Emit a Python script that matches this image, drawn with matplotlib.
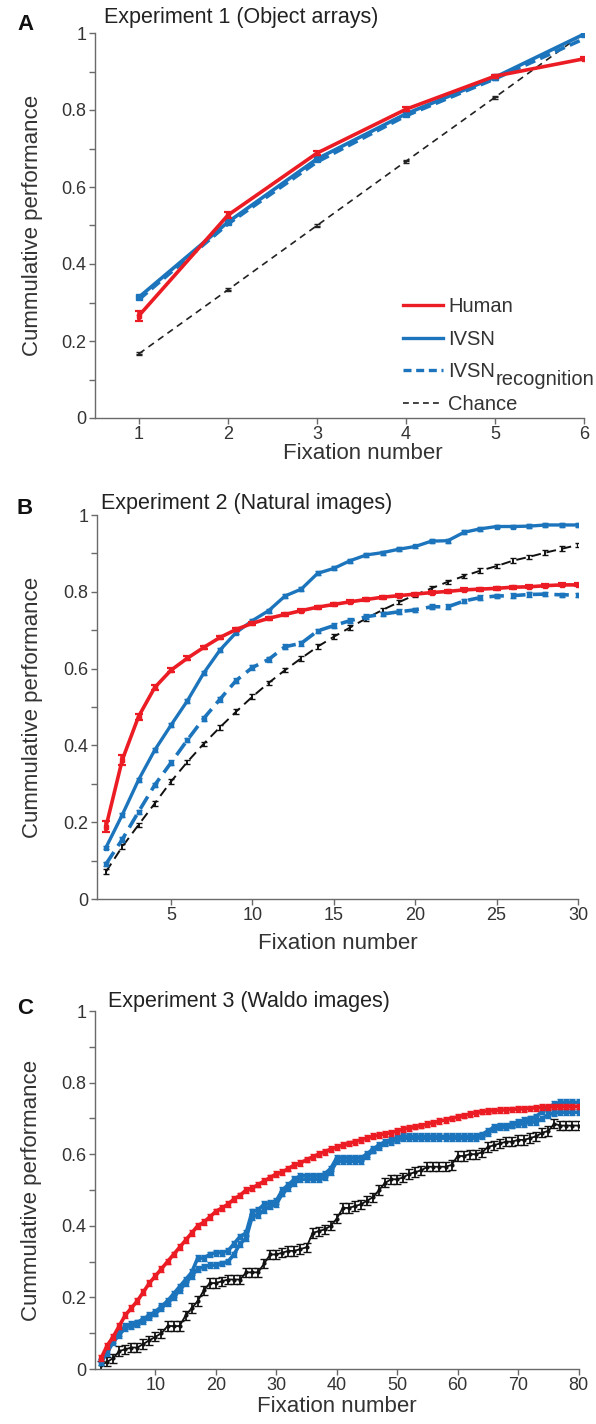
import matplotlib
matplotlib.use("Agg")
import matplotlib.pyplot as plt
from matplotlib.lines import Line2D
from matplotlib.ticker import MultipleLocator
from matplotlib.transforms import IdentityTransform

plt.rcParams["font.family"] = ["Liberation Sans", "DejaVu Sans"]

RED = "#ec1c24"
BLUE = "#1c75bc"
INK = "#333333"
SPINE = "#6a6a6a"

W, H = 596, 1424

# Experiment 1 (object arrays)
fix_a = [1, 2, 3, 4, 5, 6]
human_a = [0.266, 0.527, 0.688, 0.802, 0.888, 0.933]
human_a_err = [0.013, 0.007, 0.006, 0.005, 0.004, 0.004]
ivsn_a = [0.314, 0.509, 0.673, 0.790, 0.885, 0.997]
ivsn_rec_a = [0.308, 0.504, 0.665, 0.785, 0.881, 0.985]
chance_a = [0.167, 0.333, 0.500, 0.667, 0.833, 1.000]

# Experiment 2 (natural images)
fix_b = list(range(1, 31))
human_b = [0.188, 0.362, 0.475, 0.551, 0.596, 0.627, 0.655, 0.681, 0.702, 0.718,
           0.731, 0.741, 0.751, 0.760, 0.767, 0.774, 0.780, 0.786, 0.790, 0.794,
           0.798, 0.801, 0.805, 0.807, 0.809, 0.812, 0.813, 0.816, 0.818, 0.818]
human_b_err = [0.014, 0.014, 0.008, 0.007, 0.006, 0.005, 0.005, 0.005, 0.004, 0.004,
               0.004, 0.004, 0.004, 0.004, 0.004, 0.004, 0.004, 0.004, 0.004, 0.004,
               0.004, 0.004, 0.004, 0.004, 0.004, 0.004, 0.004, 0.004, 0.004, 0.004]
ivsn_b = [0.134, 0.219, 0.310, 0.388, 0.453, 0.516, 0.588, 0.648, 0.694, 0.725,
          0.751, 0.789, 0.807, 0.848, 0.861, 0.881, 0.896, 0.902, 0.911, 0.918,
          0.932, 0.933, 0.955, 0.964, 0.970, 0.970, 0.971, 0.974, 0.974, 0.974]
ivsn_rec_b = [0.091, 0.155, 0.227, 0.297, 0.355, 0.414, 0.470, 0.520, 0.569, 0.603,
              0.624, 0.657, 0.666, 0.698, 0.712, 0.725, 0.735, 0.742, 0.748, 0.753,
              0.761, 0.761, 0.776, 0.785, 0.789, 0.790, 0.793, 0.794, 0.792, 0.792]
chance_b = [0.071, 0.136, 0.193, 0.249, 0.306, 0.357, 0.404, 0.447, 0.488, 0.527,
            0.563, 0.596, 0.627, 0.657, 0.683, 0.707, 0.731, 0.753, 0.773, 0.792,
            0.809, 0.826, 0.841, 0.855, 0.867, 0.881, 0.891, 0.902, 0.912, 0.922]

# Experiment 3 (Waldo images)
fix_c = list(range(1, 81))
human_c = [0.030, 0.065, 0.090, 0.120, 0.150, 0.170, 0.190, 0.215, 0.240, 0.260,
           0.280, 0.300, 0.320, 0.340, 0.360, 0.380, 0.400, 0.410, 0.425, 0.440,
           0.450, 0.460, 0.475, 0.485, 0.500, 0.505, 0.515, 0.525, 0.535, 0.545,
           0.550, 0.560, 0.570, 0.575, 0.585, 0.592, 0.600, 0.607, 0.614, 0.620,
           0.625, 0.630, 0.635, 0.640, 0.645, 0.650, 0.653, 0.657, 0.660, 0.665,
           0.670, 0.673, 0.677, 0.680, 0.684, 0.688, 0.692, 0.696, 0.700, 0.704,
           0.708, 0.712, 0.716, 0.719, 0.720, 0.722, 0.723, 0.724, 0.725, 0.726,
           0.727, 0.728, 0.730, 0.731, 0.732, 0.733, 0.733, 0.733, 0.733, 0.733]
ivsn_c = [0.020, 0.050, 0.080, 0.100, 0.120, 0.125, 0.130, 0.140, 0.150, 0.160,
          0.175, 0.190, 0.210, 0.230, 0.250, 0.270, 0.310, 0.310, 0.320, 0.325,
          0.325, 0.330, 0.350, 0.370, 0.380, 0.440, 0.445, 0.460, 0.465, 0.470,
          0.500, 0.515, 0.530, 0.540, 0.540, 0.540, 0.540, 0.545, 0.560, 0.590,
          0.590, 0.590, 0.590, 0.590, 0.600, 0.615, 0.625, 0.635, 0.640, 0.645,
          0.650, 0.650, 0.650, 0.650, 0.650, 0.650, 0.650, 0.650, 0.650, 0.650,
          0.650, 0.650, 0.650, 0.655, 0.665, 0.675, 0.680, 0.680, 0.685, 0.690,
          0.695, 0.700, 0.705, 0.720, 0.730, 0.740, 0.745, 0.745, 0.745, 0.745]
ivsn_rec_c = [0.020, 0.045, 0.075, 0.095, 0.115, 0.120, 0.125, 0.135, 0.145, 0.155,
              0.170, 0.185, 0.200, 0.220, 0.240, 0.260, 0.280, 0.285, 0.290, 0.290,
              0.295, 0.300, 0.320, 0.350, 0.365, 0.425, 0.430, 0.445, 0.455, 0.460,
              0.490, 0.505, 0.520, 0.530, 0.530, 0.530, 0.530, 0.535, 0.550, 0.580,
              0.580, 0.580, 0.580, 0.580, 0.595, 0.610, 0.620, 0.630, 0.635, 0.640,
              0.645, 0.645, 0.645, 0.645, 0.645, 0.645, 0.645, 0.645, 0.645, 0.645,
              0.645, 0.645, 0.645, 0.650, 0.660, 0.670, 0.675, 0.675, 0.680, 0.685,
              0.685, 0.690, 0.690, 0.700, 0.710, 0.715, 0.717, 0.717, 0.717, 0.717]
chance_c = [0.010, 0.020, 0.030, 0.050, 0.055, 0.060, 0.060, 0.070, 0.080, 0.090,
            0.100, 0.120, 0.120, 0.120, 0.150, 0.170, 0.190, 0.220, 0.240, 0.240,
            0.245, 0.250, 0.250, 0.250, 0.270, 0.270, 0.270, 0.295, 0.320, 0.320,
            0.325, 0.330, 0.330, 0.335, 0.340, 0.380, 0.385, 0.390, 0.400, 0.420,
            0.450, 0.450, 0.455, 0.460, 0.470, 0.480, 0.500, 0.520, 0.530, 0.530,
            0.535, 0.545, 0.550, 0.555, 0.565, 0.565, 0.565, 0.565, 0.570, 0.595,
            0.595, 0.600, 0.600, 0.605, 0.620, 0.625, 0.630, 0.635, 0.635, 0.640,
            0.640, 0.645, 0.650, 0.660, 0.665, 0.685, 0.680, 0.680, 0.680, 0.680]
band_c = 0.008
chance_c_err = 0.013

YTICKS = [0, 0.2, 0.4, 0.6, 0.8, 1]
YTICKLABELS = ["0", "0.2", "0.4", "0.6", "0.8", "1"]


def px_axes(left, top, right, bottom):
    # pixel box (from the top-left corner) -> figure fraction rect
    return [left / W, 1 - bottom / H, (right - left) / W, (bottom - top) / H]


def style_axes(ax, xlim, xticks, ylabel_x, xlabel_pos):
    ax.set_xlim(*xlim)
    ax.set_ylim(0, 1)
    ax.set_xticks(xticks)
    ax.set_yticks(YTICKS)
    ax.set_yticklabels(YTICKLABELS)
    ax.yaxis.set_minor_locator(MultipleLocator(0.1))
    for side in ("top", "right"):
        ax.spines[side].set_visible(False)
    for side in ("left", "bottom"):
        ax.spines[side].set_color(SPINE)
        ax.spines[side].set_linewidth(1.0)
    ax.tick_params(which="both", direction="out", color=SPINE, width=1.0,
                   length=4, labelsize=13, labelcolor=INK, pad=2)
    ax.set_ylabel("Cummulative performance", fontsize=16, color=INK)
    ax.set_xlabel("Fixation number", fontsize=16, color=INK)
    ax.yaxis.set_label_coords(ylabel_x, 0.5)
    ax.xaxis.set_label_coords(*xlabel_pos)


def heading(letter, title, title_x, y):
    fig.text(17 / W, 1 - (y + 6) / H, letter, fontsize=16, fontweight="bold",
             color="#111111", va="center", ha="left")
    fig.text(title_x / W, 1 - y / H, title, fontsize=15.5, color="#222222",
             va="center", ha="left")


fig = plt.figure(figsize=(W / 100, H / 100), dpi=100)
fig.patch.set_facecolor("white")

# --- Panel A ---
ax = fig.add_axes(px_axes(94.5, 33, 584, 418))
ax.errorbar(fix_a, chance_a, yerr=0.004, color="#222222", lw=1.2,
            dashes=(4, 3), marker="_", ms=5, capsize=2, zorder=2)
ax.plot(fix_a, ivsn_rec_a, color=BLUE, lw=2.6, dashes=(3, 1.5), zorder=3)
ax.errorbar(fix_a, ivsn_a, yerr=0.006, color=BLUE, lw=2.6, marker="s", ms=4.5,
            capsize=2.5, zorder=4)
ax.errorbar(fix_a, human_a, yerr=human_a_err, color=RED, lw=2.6, marker="s",
            ms=3.5, capsize=3, capthick=1.6, zorder=5)
style_axes(ax, (0.5, 6.0), fix_a, -0.106, (0.549, -0.066))
heading("A", "Experiment 1 (Object arrays)", 104, 18)

handles = [
    Line2D([], [], color=RED, lw=2.4),
    Line2D([], [], color=BLUE, lw=2.4),
    Line2D([], [], color=BLUE, lw=2.4, dashes=(2.4, 1.4)),
    Line2D([], [], color="#222222", lw=1.2, dashes=(3.5, 2.5)),
]
labels = ["Human", "IVSN", "IVSN", "Chance"]
leg = ax.legend(handles, labels, loc="upper left",
                bbox_to_anchor=(403 / W, 1 - 297 / H),
                bbox_transform=fig.transFigure, frameon=False, fontsize=14.5,
                handlelength=2.0, handletextpad=0.25, labelspacing=0.68,
                borderpad=0.0, borderaxespad=0.0, labelcolor=INK)

# --- Panel B ---
ax = fig.add_axes(px_axes(97, 515, 578, 899))
ax.errorbar(fix_b, chance_b, yerr=0.006, color="#111111", lw=1.4,
            dashes=(5, 3), capsize=2.5, zorder=2)
ax.errorbar(fix_b, ivsn_rec_b, yerr=0.006, color=BLUE, lw=2.6,
            dashes=(4, 2), marker="s", ms=3, capsize=2, zorder=3)
ax.errorbar(fix_b, ivsn_b, yerr=0.005, color=BLUE, lw=2.4, marker="s", ms=3,
            capsize=2, zorder=4)
ax.errorbar(fix_b, human_b, yerr=human_b_err, color=RED, lw=2.6, marker="s",
            ms=3, capsize=3, capthick=1.6, zorder=5)
style_axes(ax, (0.45, 30.0), [5, 10, 15, 20, 25, 30], -0.113, (0.5, -0.088))
heading("B", "Experiment 2 (Natural images)", 101, 503)

# --- Panel C ---
ax = fig.add_axes(px_axes(95, 1011, 578.5, 1369))
ax.errorbar(fix_c, chance_c, yerr=chance_c_err, color="#111111", lw=1.3,
            marker="o", ms=2, capsize=3, capthick=1.0, zorder=2)
ax.errorbar(fix_c, ivsn_rec_c, yerr=band_c, color=BLUE, lw=2.6, marker="s",
            ms=2.5, capsize=2, zorder=3)
ax.errorbar(fix_c, ivsn_c, yerr=band_c, color=BLUE, lw=2.6, marker="s",
            ms=2.5, capsize=2, zorder=4)
ax.errorbar(fix_c, human_c, yerr=band_c, color=RED, lw=2.6, marker="s",
            ms=3, capsize=2.5, zorder=5)
style_axes(ax, (0.0, 80.0), [10, 20, 30, 40, 50, 60, 70, 80], -0.109,
           (0.5, -0.076))
heading("C", "Experiment 3 (Waldo images)", 108, 1002)

# subscript of the IVSN_recognition legend entry, set at full size
fig.canvas.draw()
bb = leg.get_texts()[2].get_window_extent(fig.canvas.get_renderer())
fig.text(bb.x1, bb.y0 - 8, "recognition", transform=IdentityTransform(),
         fontsize=14.5, color=INK, ha="left", va="bottom")

fig.savefig("out.png", dpi=100, facecolor="white")
